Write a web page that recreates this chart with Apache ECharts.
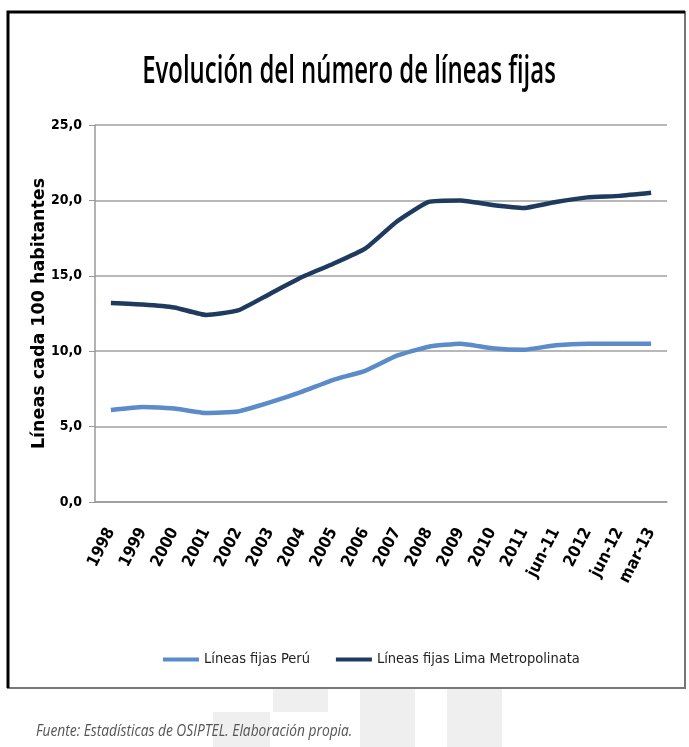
<!DOCTYPE html>
<html>
<head>
<meta charset="utf-8">
<script src="https://cdn.jsdelivr.net/npm/echarts@6/dist/echarts.min.js"></script>
<style>
  html, body { margin: 0; padding: 0; background: #fff; }
  #chart { width: 689px; height: 747px; }
</style>
</head>
<body>
<div id="chart"></div>
<script>
const periods = ["1998", "1999", "2000", "2001", "2002", "2003", "2004", "2005", "2006",
    "2007", "2008", "2009", "2010", "2011", "jun-11", "2012", "jun-12", "mar-13"];
const peru = [6.1, 6.3, 6.2, 5.9, 6.0, 6.6, 7.3, 8.1, 8.7,
    9.7, 10.3, 10.5, 10.2, 10.1, 10.4, 10.5, 10.5, 10.5];
const lima = [13.2, 13.1, 12.9, 12.4, 12.7, 13.8, 14.9, 15.8, 16.8,
    18.6, 19.9, 20.0, 19.7, 19.5, 19.9, 20.2, 20.3, 20.5];
const yTicks = [0, 5, 10, 15, 20, 25];

const cond = "'DejaVu Sans Condensed', 'DejaVu Sans', sans-serif";

let chart = echarts.init(document.getElementById("chart"));
chart.setOption({
    animation: false,
    legend: {
        top: 647,
        left: 158,
        itemWidth: 36,
        itemHeight: 4,
        itemGap: 26,
        icon: "rect",
        textStyle: { fontFamily: cond, fontSize: 14.5, color: "#222" },
        data: ["Líneas fijas Perú", "Líneas fijas Lima Metropolinata"]
    },
    grid: { left: 95, right: 22, top: 125, bottom: 245 },
    xAxis: {
        type: "category",
        data: periods,
        boundaryGap: true,
        axisLine: { lineStyle: { color: "#999", width: 1.5 } },
        axisTick: { length: 9, lineStyle: { color: "#999" } },
        axisLabel: {
            interval: 0,
            rotate: 63,
            margin: 27,
            fontFamily: cond,
            fontWeight: "bold",
            fontSize: 16.5,
            color: "#000"
        }
    },
    yAxis: {
        type: "value",
        min: yTicks[0],
        max: yTicks[yTicks.length - 1],
        interval: 5,
        name: "Líneas cada 100 habitantes",
        nameLocation: "middle",
        nameGap: 47,
        nameMoveOverlap: false,
        nameTextStyle: { fontFamily: "'DejaVu Sans', sans-serif", fontWeight: "bold", fontSize: 17.5, color: "#000" },
        axisLine: { show: true, lineStyle: { color: "#999", width: 1.5 } },
        axisTick: { show: true, length: 6, lineStyle: { color: "#999" } },
        axisLabel: {
            margin: 13,
            fontFamily: cond,
            fontWeight: "bold",
            fontSize: 14,
            color: "#000",
            formatter: v => v.toFixed(1).replace(".", ",")
        },
        splitLine: { lineStyle: { color: "#a0a0a0", width: 1.5 } }
    },
    series: [
        {
            name: "Líneas fijas Perú",
            type: "line",
            data: peru,
            symbol: "none",
            smooth: 0.15,
            lineStyle: { width: 4.5, color: "#5b8bc9" },
            itemStyle: { color: "#5b8bc9" }
        },
        {
            name: "Líneas fijas Lima Metropolinata",
            type: "line",
            data: lima,
            symbol: "none",
            smooth: 0.15,
            lineStyle: { width: 4.5, color: "#1e3a5f" },
            itemStyle: { color: "#1e3a5f" }
        }
    ],
    graphic: [
        // faint blocks below the box
        { type: "rect", shape: { x: 273, y: 688, width: 55, height: 24 }, style: { fill: "#efefef" }, z: -1 },
        { type: "rect", shape: { x: 213, y: 712, width: 57, height: 35 }, style: { fill: "#efefef" }, z: -1 },
        { type: "rect", shape: { x: 360, y: 688, width: 55, height: 59 }, style: { fill: "#efefef" }, z: -1 },
        { type: "rect", shape: { x: 447, y: 688, width: 55, height: 59 }, style: { fill: "#efefef" }, z: -1 },
        // chart frame
        { type: "rect", shape: { x: 8, y: 12, width: 677, height: 676 },
          style: { fill: "none", stroke: "#777", lineWidth: 2 }, z: 10 },
        { type: "polyline", shape: { points: [[8, 688], [8, 12], [685, 12]] },
          style: { fill: "none", stroke: "#000", lineWidth: 3 }, z: 11 },
        // title, squeezed to a narrow face
        {
            type: "text",
            x: 349, y: 91,
            scaleX: 0.63,
            style: {
                x: 0, y: 0,
                text: "Evolución del número de líneas fijas",
                align: "center",
                verticalAlign: "bottom",
                fontFamily: "'Open Sans', sans-serif",
                fontWeight: 600,
                fontSize: 38,
                fill: "#000"
            }
        },
        {
            type: "text",
            x: 36, y: 731,
            scaleX: 0.86,
            style: {
                x: 0, y: 0,
                text: "Fuente: Estadísticas de OSIPTEL. Elaboración propia.",
                verticalAlign: "middle",
                fontFamily: "'Open Sans', sans-serif",
                fontStyle: "italic",
                fontSize: 16,
                fill: "#555"
            }
        }
    ]
});
</script>
</body>
</html>
